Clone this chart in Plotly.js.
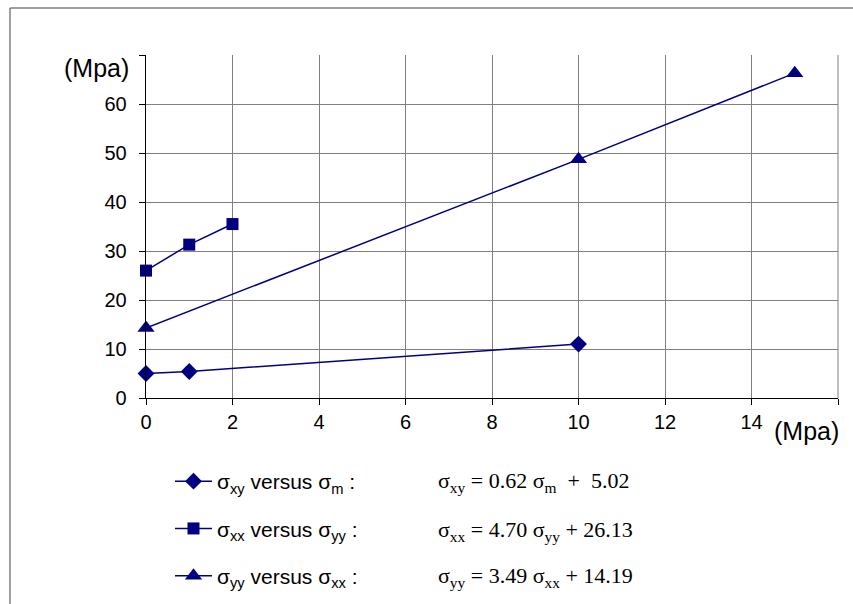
<!DOCTYPE html>
<html>
<head>
<meta charset="utf-8">
<script src="https://cdn.plot.ly/plotly-3.0.1.min.js"></script>
<style>html,body{margin:0;padding:0;background:#fff;}#chart{width:853px;height:604px;}</style>
</head>
<body>
<div id="chart"></div>
<script>
// Data
const xyX = [0, 1, 10];
const xyY = [5.0, 5.4, 11.0];
const xxX = [0, 1, 2];
const xxY = [26.0, 31.3, 35.5];
const yyX = [0, 10, 15];
const yyY = [14.3, 48.7, 66.3];

const seriesNames = [
  'σ<sub>xy</sub> versus σ<sub>m</sub> :',
  'σ<sub>xx</sub> versus σ<sub>yy</sub> :',
  'σ<sub>yy</sub> versus σ<sub>xx</sub> :'
];
const equations = [
  'σ<sub>xy</sub> = 0.62 σ<sub>m</sub>  +  5.02',
  'σ<sub>xx</sub> = 4.70 σ<sub>yy</sub> + 26.13',
  'σ<sub>yy</sub> = 3.49 σ<sub>xx</sub> + 14.19'
];
const xTickVals = [0, 2, 4, 6, 8, 10, 12, 14, 16];
const xTickText = ['0', '2', '4', '6', '8', '10', '12', '14', ''];
const yTickVals = [0, 10, 20, 30, 40, 50, 60, 70];
const yTickText = ['0', '10', '20', '30', '40', '50', '60', ''];
const axisUnit = '(Mpa)';

const navy = '#000080';
const mk = (x, y, name, symbol, size, g) => ({
  x: x, y: y, name: name, type: 'scatter', mode: 'lines+markers',
  legendgroup: g, cliponaxis: false,
  line: {color: navy, width: 1.5},
  marker: {symbol: symbol, size: size, color: navy}
});

const traces = [
  mk(xyX, xyY, seriesNames[0], 'diamond', 13, 'a'),
  mk(xxX, xxY, seriesNames[1], 'square', 12, 'b'),
  mk(yyX, yyY, seriesNames[2], 'triangle-up', 15, 'c')
];

const L = 146, R = 838, T = 55, B = 398;
const pw = R - L, ph = B - T;
const px = v => (v - L) / pw;
const py = v => (B - v) / ph;

const annotations = equations.map((t, i) => ({
  text: t, xref: 'paper', yref: 'paper', x: px(436), y: py([482, 531, 577][i]),
  xanchor: 'left', yanchor: 'middle', showarrow: false,
  font: {family: 'Liberation Serif, Times New Roman, serif', size: 22, color: '#000'}
}));
annotations.push({
  text: axisUnit, xref: 'paper', yref: 'paper', x: px(131), y: py(68),
  xanchor: 'right', yanchor: 'middle', showarrow: false,
  font: {family: 'Liberation Sans, Arial, sans-serif', size: 25, color: '#000'}
});
annotations.push({
  text: axisUnit, xref: 'paper', yref: 'paper', x: px(841), y: py(431),
  xanchor: 'right', yanchor: 'middle', showarrow: false,
  font: {family: 'Liberation Sans, Arial, sans-serif', size: 25, color: '#000'}
});

const layout = {
  width: 853, height: 604,
  margin: {l: L, r: 853 - R, t: T, b: 604 - B, pad: 0, autoexpand: false},
  paper_bgcolor: '#fff', plot_bgcolor: '#fff',
  font: {family: 'Liberation Sans, Arial, sans-serif', size: 20, color: '#000'},
  showlegend: true,
  legend: {
    x: px(170), y: py(461), xanchor: 'left', yanchor: 'top',
    tracegroupgap: 17, bgcolor: 'rgba(0,0,0,0)',
    font: {family: 'Liberation Sans, Arial, sans-serif', size: 21, color: '#000'},
    itemwidth: 37
  },
  xaxis: {
    range: [0, 16], tickvals: xTickVals, ticktext: xTickText,
    showgrid: true, gridcolor: '#808080', gridwidth: 1,
    showline: true, linecolor: '#000', linewidth: 1.3,
    ticks: 'outside', ticklen: 6, tickcolor: '#000',
    zeroline: false, fixedrange: true
  },
  yaxis: {
    range: [0, 70], tickvals: yTickVals, ticktext: yTickText,
    showgrid: true, gridcolor: '#808080', gridwidth: 1,
    showline: true, linecolor: '#000', linewidth: 1.3,
    ticks: 'outside', ticklen: 6, tickcolor: '#000',
    ticklabelstandoff: 8,
    zeroline: false, fixedrange: true
  },
  shapes: [
    {type: 'line', xref: 'paper', yref: 'paper', x0: 1, x1: 1, y0: 0, y1: 1, line: {color: '#808080', width: 1}},
    {type: 'rect', xref: 'paper', yref: 'paper', x0: px(10), x1: px(870), y0: py(8), y1: py(640), line: {color: '#404040', width: 1}, layer: 'below'}
  ],
  annotations: annotations
};

Plotly.newPlot('chart', traces, layout, {displayModeBar: false, staticPlot: true});
</script>
</body>
</html>
